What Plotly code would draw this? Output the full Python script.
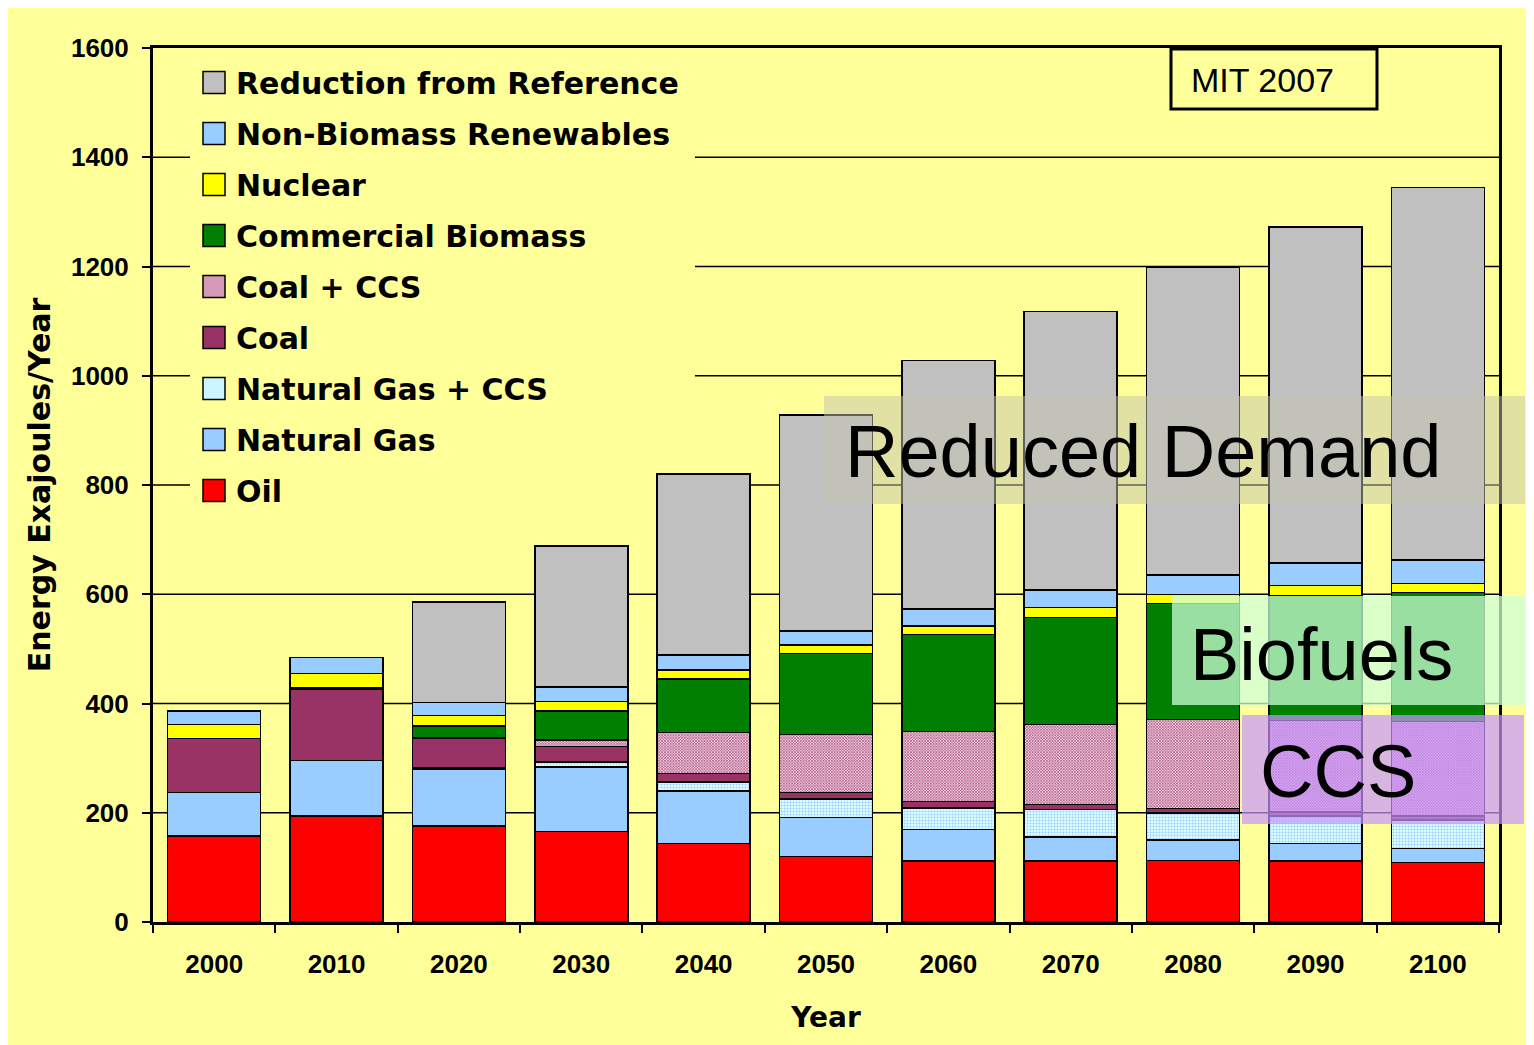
import plotly.graph_objects as go

# ---------------- data ----------------
years = ["2000", "2010", "2020", "2030", "2040", "2050", "2060", "2070", "2080", "2090", "2100"]
oil = [157, 194, 176, 166, 144, 120, 112, 112, 113, 112, 109]
natural_gas = [80, 102, 104, 118, 96, 71, 57, 44, 37, 32, 26]
natural_gas_ccs = [0, 0, 2, 9, 16, 34, 40, 50, 50, 50, 52]
coal = [99, 131, 55, 28, 16, 12, 12, 9, 8, 7, 7]
coal_ccs = [0, 0, 0, 12, 75, 106, 128, 147, 163, 168, 173]
commercial_biomass = [0, 2, 22, 53, 98, 149, 177, 195, 212, 229, 236]
nuclear = [26, 26, 19, 18, 16, 15, 16, 19, 17, 18, 17]
non_biomass_renewables = [24, 29, 24, 26, 28, 26, 31, 32, 35, 41, 43]
reduction_from_reference = [0, 0, 184, 258, 331, 395, 455, 510, 564, 615, 682]
y_ticks = [0, 200, 400, 600, 800, 1000, 1200, 1400, 1600]

series = [
    ("Oil", oil, dict(color="#FF0000")),
    ("Natural Gas", natural_gas, dict(color="#99CCFF")),
    ("Natural Gas + CCS", natural_gas_ccs,
     dict(color="#D6FFFF", pattern=dict(shape=".", size=3, solidity=0.35,
                                        fgcolor="#99CCFF", bgcolor="#DDFFFF", fillmode="replace"))),
    ("Coal", coal, dict(color="#993366")),
    ("Coal + CCS", coal_ccs,
     dict(color="#C87FA6", pattern=dict(shape="x", size=2, solidity=0.5,
                                        fgcolor="#993366", bgcolor="#F4D4E6", fillmode="replace"))),
    ("Commercial Biomass", commercial_biomass, dict(color="#008000")),
    ("Nuclear", nuclear, dict(color="#FFFF00")),
    ("Non-Biomass Renewables", non_biomass_renewables, dict(color="#99CCFF")),
    ("Reduction from Reference", reduction_from_reference, dict(color="#C0C0C0")),
]
# solid look-alike colours for the legend swatches
swatch_colors = ["#FF0000", "#99CCFF", "#CCF6FF", "#993366", "#D49AB8",
                 "#008000", "#FFFF00", "#99CCFF", "#C0C0C0"]

YELLOW = "#FFFF99"
OFF = 8                      # page body margin
W, H = 1534 - OFF, 1045 - OFF
L, R, T, B = 153 - OFF, 1499 - OFF, 48 - OFF, 922 - OFF
YMAX = 1600
NCAT = len(years)


def px(xs):
    return (xs - OFF - L) / (R - L)


def py(ys):
    return (B - (ys - OFF)) / (B - T)


def xcat(xs):            # screen x -> category-axis coordinate
    return -0.5 + px(xs) * NCAT


def yval(ys):            # screen y -> value-axis coordinate
    return py(ys) * YMAX


fig = go.Figure()
for name, vals, mk in series:
    marker = dict(mk)
    marker["line"] = dict(color="black", width=1.5)
    fig.add_trace(go.Bar(x=years, y=vals, name=name, marker=marker))

tickfont = dict(family="Liberation Sans, Arial", size=26, color="black", weight="bold")

fig.update_layout(
    width=W, height=H,
    barmode="stack", bargap=0.24,
    paper_bgcolor=YELLOW, plot_bgcolor=YELLOW,
    margin=dict(l=L, r=W - R, t=T, b=H - B, autoexpand=False),
    showlegend=False,
    xaxis=dict(
        type="category", range=[-0.5, NCAT - 0.5],
        showline=True, linewidth=3, linecolor="black", mirror=True,
        ticks="outside", ticklen=8, tickwidth=2, tickcolor="black", tickson="boundaries",
        tickfont=tickfont, ticklabelstandoff=17,
        title=dict(text="Year", standoff=30,
                   font=dict(family="DejaVu Sans", size=28, color="black", weight="bold")),
        showgrid=False,
    ),
    yaxis=dict(
        range=[0, YMAX], tickvals=y_ticks, showline=True, linewidth=3, linecolor="black", mirror=True,
        ticks="outside", ticklen=8, tickwidth=2, tickcolor="black",
        tickfont=tickfont, ticklabelstandoff=8,
        showgrid=False, zeroline=False,
        title=dict(text="Energy Exajoules/Year", standoff=12,
                   font=dict(family="DejaVu Sans", size=30, color="black", weight="bold")),
    ),
)

shapes = []
# gridlines (interrupted behind the legend block)
leg_top, leg_bot, leg_l, leg_r = 52, 516, 190, 695
for v in y_ticks[1:-1]:
    segs = [(-0.5, NCAT - 0.5)]
    if yval(leg_bot) <= v <= yval(leg_top):
        segs = [(-0.5, xcat(leg_l)), (xcat(leg_r), NCAT - 0.5)]
    for a, b in segs:
        shapes.append(dict(type="line", xref="x", yref="y", x0=a, x1=b, y0=v, y1=v,
                           line=dict(color="black", width=1.5), layer="below"))

shapes += [
    # MIT 2007 box
    dict(type="rect", xref="paper", yref="paper", x0=px(1171), x1=px(1377), y0=py(109), y1=py(49),
         fillcolor=YELLOW, line=dict(color="black", width=3), layer="above"),
    # overlay boxes
    dict(type="rect", xref="paper", yref="paper", x0=px(824), x1=px(1525), y0=py(504), y1=py(396),
         fillcolor="rgba(195,195,175,0.5)", line=dict(width=0), layer="above"),
    dict(type="rect", xref="paper", yref="paper", x0=px(1172), x1=px(1525), y0=py(705), y1=py(596),
         fillcolor="rgba(205,255,216,0.75)", line=dict(width=0), layer="above"),
    dict(type="rect", xref="paper", yref="paper", x0=px(1242), x1=px(1524), y0=py(824), y1=py(715),
         fillcolor="rgba(200,150,255,0.7)", line=dict(width=0), layer="above"),
]

legend_font = dict(family="DejaVu Sans", size=30, color="black", weight="bold")
annotations = []
# legend: top item = last series
for k, ((name, _, _), col) in enumerate(zip(reversed(series), reversed(swatch_colors))):
    cy = 82.5 + 51 * k
    shapes.append(dict(type="rect", xref="paper", yref="paper",
                       x0=px(203), x1=px(225), y0=py(cy + 11), y1=py(cy - 11),
                       fillcolor=col, line=dict(color="black", width=1.5), layer="above"))
    annotations.append(dict(text=name, x=px(234), y=py(cy + 1), xref="paper", yref="paper",
                            xanchor="left", yanchor="middle", showarrow=False,
                            font=legend_font))
fig.update_layout(shapes=shapes)

ann_font = "Liberation Sans, Arial"
annotations += [
    dict(text="MIT 2007", x=px(1189), y=py(80), xref="paper", yref="paper",
         xanchor="left", yanchor="middle", showarrow=False,
         font=dict(family=ann_font, size=34, color="black")),
    dict(text="Reduced Demand", x=px(843), y=py(452), xref="paper", yref="paper",
         xanchor="left", yanchor="middle", showarrow=False,
         font=dict(family=ann_font, size=74, color="black")),
    dict(text="Biofuels", x=px(1188), y=py(654), xref="paper", yref="paper",
         xanchor="left", yanchor="middle", showarrow=False,
         font=dict(family=ann_font, size=74, color="black")),
    dict(text="CCS", x=px(1258), y=py(771), xref="paper", yref="paper",
         xanchor="left", yanchor="middle", showarrow=False,
         font=dict(family=ann_font, size=74, color="black")),
]
fig.update_layout(annotations=annotations)

fig.write_html("out.html")
